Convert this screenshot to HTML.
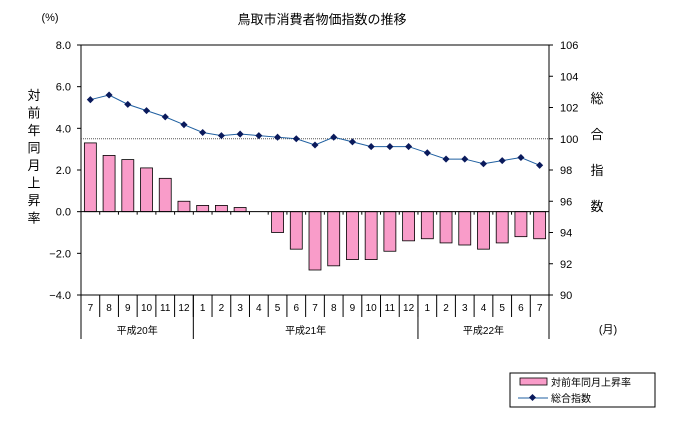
<!DOCTYPE html>
<html><head><meta charset="utf-8"><style>
body{margin:0;background:#fff;}
svg text{font-family:"Liberation Sans","Noto Sans CJK JP",sans-serif;fill:#000;}
</style></head><body>
<svg id="c" width="683" height="420" xmlns="http://www.w3.org/2000/svg">
<text x="322" y="24" font-size="13" text-anchor="middle">鳥取市消費者物価指数の推移</text>
<text x="50" y="21" font-size="11" text-anchor="middle">(%)</text>
<g id="ltitle" font-size="13" text-anchor="middle"></g>
<g id="rtitle" font-size="13" text-anchor="middle"></g>
<text x="608" y="333" font-size="11" text-anchor="middle">(月)</text>
<g id="plot"></g>
<g>
<rect x="510" y="373" width="145" height="34" fill="#fff" stroke="#000"/>
<rect x="520" y="378" width="27" height="7" fill="#f99cc9" stroke="#000" stroke-width="0.8"/>
<text x="551" y="386" font-size="10">対前年同月上昇率</text>
<line x1="518" y1="398" x2="548" y2="398" stroke="#1f5fa0"/>
<rect x="530" y="395" width="5" height="5" fill="#0a1a5c" transform="rotate(45 532.5 397.5)"/>
<text x="551" y="402" font-size="10">総合指数</text>
</g>
</svg>
<script>
const months=["7","8","9","10","11","12","1","2","3","4","5","6","7","8","9","10","11","12","1","2","3","4","5","6","7"];
const rateValues=[3.3,2.7,2.5,2.1,1.6,0.5,0.3,0.3,0.2,0,-1.0,-1.8,-2.8,-2.6,-2.3,-2.3,-1.9,-1.4,-1.3,-1.5,-1.6,-1.8,-1.5,-1.2,-1.3];
const indexValues=[102.5,102.8,102.2,101.8,101.4,100.9,100.4,100.2,100.3,100.2,100.1,100.0,99.6,100.1,99.8,99.5,99.5,99.5,99.1,98.7,98.7,98.4,98.6,98.8,98.3];
const leftTicks=["8.0","6.0","4.0","2.0","0.0","−2.0","−4.0"];
const rightTicks=["106","104","102","100","98","96","94","92","90"];
const years=["平成20年","平成21年","平成22年"];
const yearSpans=[6,12,7];
const NS="http://www.w3.org/2000/svg";
const X0=81,X1=549,T=45,B=295;
const cw=(X1-X0)/months.length;
const yL=v=>T+(8-v)*(B-T)/12;
const yR=v=>T+(106-v)*(B-T)/16;
const xC=i=>X0+cw*(i+0.5);
const g=document.getElementById('plot');
function mk(t,a,p){const e=document.createElementNS(NS,t);for(const k in a)e.setAttribute(k,a[k]);(p||g).appendChild(e);return e;}
// frame
let e=mk('rect',{x:X0,y:T,width:X1-X0,height:B-T,fill:'none',stroke:'#000','stroke-width':1});


// left ticks
leftTicks.forEach((t,i)=>{const y=T+i*(B-T)/6;
mk('line',{x1:X0-4,y1:y,x2:X0,y2:y,stroke:'#000'});
const tx=mk('text',{x:X0-10,y:y+4,'font-size':11,'text-anchor':'end'});tx.textContent=t;

});
rightTicks.forEach((t,i)=>{const y=T+i*(B-T)/8;
mk('line',{x1:X1,y1:y,x2:X1+4,y2:y,stroke:'#000'});
const tx=mk('text',{x:X1+11,y:y+4,'font-size':11});tx.textContent=t;

});
// dotted 100 line
mk('line',{x1:X0,y1:yR(100),x2:X1,y2:yR(100),stroke:'#555','stroke-dasharray':'1,1'});
// bars
rateValues.forEach((v,i)=>{const y0=yL(0),y=yL(v);
const r=mk('rect',{x:xC(i)-cw*0.32,y:Math.min(y,y0),width:cw*0.64,height:Math.abs(y-y0),fill:'#f99cc9',stroke:'#000','stroke-width':0.8});

});
// zero line
mk('line',{x1:X0,y1:yL(0),x2:X1,y2:yL(0),stroke:'#000'});
for(let i=0;i<=months.length;i++)mk('line',{x1:X0+cw*i,y1:yL(0),x2:X0+cw*i,y2:yL(0)+3,stroke:'#000'});
// line
const pl=mk('polyline',{points:indexValues.map((v,i)=>xC(i)+','+yR(v)).join(' '),fill:'none',stroke:'#1f5fa0','stroke-width':1});


indexValues.forEach((v,i)=>{const p=mk('rect',{x:xC(i)-2.5,y:yR(v)-2.5,width:5,height:5,fill:'#0a1a5c',transform:`rotate(45 ${xC(i)} ${yR(v)})`});

});
// category labels
months.forEach((m,i)=>{mk('line',{x1:X0+cw*i,y1:B,x2:X0+cw*i,y2:B+22,stroke:'#000'});
const tx=mk('text',{x:xC(i),y:B+16,'font-size':10,'text-anchor':'middle'});tx.textContent=m;

});
mk('line',{x1:X1,y1:B,x2:X1,y2:B+44,stroke:'#000'});
let s=0;years.forEach((yv,j)=>{mk('line',{x1:X0+cw*s,y1:B,x2:X0+cw*s,y2:B+44,stroke:'#000'});
const tx=mk('text',{x:X0+cw*(s+yearSpans[j]/2),y:B+39,'font-size':10,'text-anchor':'middle'});tx.textContent=yv;


s+=yearSpans[j];});
// titles
const lt=document.getElementById('ltitle');
"対前年同月上昇率".split('').forEach((ch,i)=>{const t=mk('text',{x:34,y:100+i*17.5},lt);t.textContent=ch;});
const rt=document.getElementById('rtitle');
"総合指数".split('').forEach((ch,i)=>{const t=mk('text',{x:597,y:103+i*36},rt);t.textContent=ch;});
</script>
</body></html>
